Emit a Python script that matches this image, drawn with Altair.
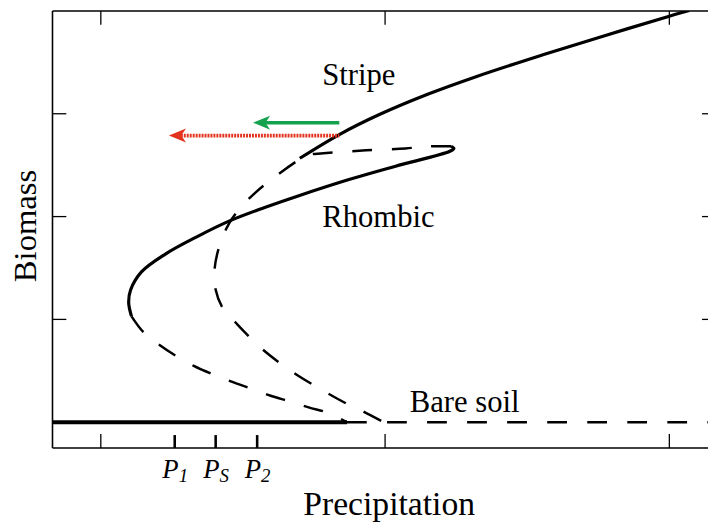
import altair as alt
import pandas as pd

# ---------------- data ----------------
# stable stripe branch (solid)
stripe_solid_x = [1.700, 1.839, 1.978, 2.152, 2.315, 2.548, 2.778, 3.000, 3.070]
stripe_solid_y = [2.567, 2.798, 2.990, 3.192, 3.356, 3.567, 3.764, 3.949, 4.005]

# stable rhombic branch (solid)
rhombic_solid_x = [2.232, 2.242, 2.228, 2.037, 1.873, 1.689, 1.574, 1.453, 1.341, 1.227, 1.143, 1.105, 1.098, 1.108]
rhombic_solid_y = [2.683, 2.663, 2.635, 2.490, 2.360, 2.196, 2.086, 1.958, 1.808, 1.635, 1.462, 1.288, 1.163, 1.029]

# unstable rhombic branch (dashed, outer lower curve)
rhombic_unst_x = [1.108, 1.150, 1.202, 1.265, 1.327, 1.397, 1.460, 1.529, 1.595, 1.665, 1.731, 1.804, 1.866]
rhombic_unst_y = [1.029, 0.875, 0.760, 0.644, 0.548, 0.462, 0.394, 0.327, 0.260, 0.202, 0.144, 0.087, 0.000]

# unstable stripe branch (dashed, inner curve)
stripe_unst_x = [2.232, 2.152, 2.072, 1.933, 1.783, 1.724, 1.689, 1.602, 1.543, 1.498, 1.453, 1.418,
                 1.400, 1.404, 1.428, 1.480, 1.560, 1.620, 1.689, 1.794, 1.863, 1.922, 1.995]
stripe_unst_y = [2.683, 2.683, 2.663, 2.644, 2.615, 2.596, 2.538, 2.365, 2.231, 2.106, 1.942, 1.721,
                 1.481, 1.288, 1.115, 0.952, 0.731, 0.596, 0.462, 0.288, 0.183, 0.106, 0.000]

# bare soil
bare_solid_x = [0.83, 1.866]
bare_dashed_x = [1.866, 3.136]
bare_y = 0.0

# axis ticks
major_ticks_x = [1, 2, 3]
major_ticks_y = [1, 2, 3]
p_ticks = [1.260, 1.404, 1.550]
p_subs = ["1", "S", "2"]

# arrows
arrow_tail_x = [1.839, 1.839]
arrow_tip_x = [1.536, 1.240]
arrow_y = [2.913, 2.788]
arrow_color = ["#14a24f", "#e2331f"]

# labels
label_text = ["Stripe", "Rhombic", "Bare soil"]
label_x = [1.779, 1.779, 2.087]
label_y = [3.279, 1.894, 0.096]

XMIN, XMAX = 0.83, 3.136
YMIN, YMAX = -0.25, 4.0

# ---------------- scales / axes ----------------
xs = alt.Scale(domain=[XMIN, XMAX], nice=False, zero=False)
ys = alt.Scale(domain=[YMIN, YMAX], nice=False, zero=False)
FONT = "Liberation Serif"
xaxis = alt.Axis(title="Precipitation", domain=False, ticks=False, labels=False, grid=False,
                 titleFont=FONT, titleFontSize=34, titleFontWeight="normal", titleColor="black",
                 titleX=340, titleY=67, titleBaseline="alphabetic", titleAlign="center")
yaxis = alt.Axis(title="Biomass", domain=False, ticks=False, labels=False, grid=False,
                 titleFont=FONT, titleFontSize=33, titleFontWeight="normal", titleColor="black",
                 titleAngle=270, titleX=-17, titleY=217, titleBaseline="alphabetic", titleAlign="center")


def X(f="x"):
    return alt.X(f"{f}:Q", scale=xs, axis=xaxis)


def Y(f="y"):
    return alt.Y(f"{f}:Q", scale=ys, axis=yaxis)


def curve(name, xs_, ys_):
    return pd.DataFrame({"x": xs_, "y": ys_, "seg": name, "i": list(range(len(xs_)))})


solid_df = pd.concat([curve("stripe", stripe_solid_x, stripe_solid_y),
                      curve("rhombic", rhombic_solid_x, rhombic_solid_y)])
dashed_df = pd.concat([curve("rh_u", rhombic_unst_x, rhombic_unst_y),
                       curve("st_u", stripe_unst_x, stripe_unst_y)])
bare_solid_df = curve("bs", bare_solid_x, [bare_y] * 2)
bare_dashed_df = curve("bd", bare_dashed_x, [bare_y] * 2)

solid = alt.Chart(solid_df).mark_line(color="black", strokeWidth=3.2, interpolate="catmull-rom", clip=True).encode(
    x=X(), y=Y(), detail="seg:N", order="i:Q")
dashed = alt.Chart(dashed_df).mark_line(color="black", strokeWidth=2.5, strokeDash=[20, 20],
                                         interpolate="catmull-rom", clip=True).encode(
    x=X(), y=Y(), detail="seg:N", order="i:Q")
bare_s = alt.Chart(bare_solid_df).mark_line(color="black", strokeWidth=4).encode(x=X(), y=Y(), order="i:Q")
bare_d = alt.Chart(bare_dashed_df).mark_line(color="black", strokeWidth=2.5, strokeDash=[20, 20.5], clip=True).encode(
    x=X(), y=Y(), order="i:Q")

# frame (left, top, bottom)
frame_df = pd.DataFrame({"x": [XMIN, XMIN, XMIN], "x2": [XMIN, XMAX, XMAX],
                         "y": [YMIN, YMAX, YMIN], "y2": [YMAX, YMAX, YMIN]})
frame = alt.Chart(frame_df).mark_rule(color="black", strokeWidth=1.6).encode(
    x=X(), x2="x2:Q", y=Y(), y2="y2:Q")

# inward ticks
tlx = 14 / 287.5
tly = 14 / 104
rows = []
for v in major_ticks_y:
    rows.append({"x": XMIN, "x2": XMIN + tlx, "y": v, "y2": v})
    rows.append({"x": XMAX - 0.021, "x2": XMAX, "y": v, "y2": v})
for v in major_ticks_x:
    rows.append({"x": v, "x2": v, "y": YMIN, "y2": YMIN + tly})
    rows.append({"x": v, "x2": v, "y": YMAX - tly, "y2": YMAX})
ticks = alt.Chart(pd.DataFrame(rows)).mark_rule(color="black", strokeWidth=1.3).encode(
    x=X(), x2="x2:Q", y=Y(), y2="y2:Q")

pt_df = pd.DataFrame({"x": p_ticks, "y": [YMIN] * 3, "y2": [YMIN + 13 / 104] * 3, "sub": p_subs})
pticks = alt.Chart(pt_df).mark_rule(color="black", strokeWidth=2.6).encode(x=X(), y=Y(), y2="y2:Q")
p_main = alt.Chart(pt_df.assign(yt=-0.538, t="P")).mark_text(
    font=FONT, fontStyle="italic", fontSize=27, align="right", baseline="alphabetic", dx=4, color="black").encode(
    x=X(), y=Y("yt"), text="t:N")
p_sub = alt.Chart(pt_df.assign(yt=-0.577)).mark_text(
    font=FONT, fontStyle="italic", fontSize=19, align="left", baseline="alphabetic", dx=4, color="black").encode(
    x=X(), y=Y("yt"), text="sub:N")

# arrows
head_half = 8.5 / 287.5
arr_df = pd.DataFrame({"tail": arrow_tail_x, "tip": arrow_tip_x, "y": arrow_y, "c": arrow_color})
arr_df["head"] = arr_df["tip"] + head_half
arr_df["lend"] = arr_df["tip"] + 2 * head_half * 0.7
green_line = alt.Chart(arr_df.iloc[[0]]).mark_rule(strokeWidth=3.5, color=arrow_color[0]).encode(
    x=X("lend"), x2="tail:Q", y=Y())
red_line = alt.Chart(arr_df.iloc[[1]]).mark_rule(strokeWidth=3.8, color=arrow_color[1], strokeDash=[2, 1]).encode(
    x=X("lend"), x2="tail:Q", y=Y())
heads = alt.Chart(arr_df).mark_point(shape="M -1 0 L 1 -0.82 L 0.45 0 L 1 0.82 Z", filled=True, size=300,
                                     opacity=1, strokeWidth=0).encode(
    x=X("head"), y=Y(), color=alt.Color("c:N", scale=None))

# curve labels
lab_df = pd.DataFrame({"x": label_x, "y": label_y, "t": label_text})
labels = alt.Chart(lab_df).mark_text(font=FONT, fontSize=31, align="left", baseline="alphabetic",
                                     color="black").encode(x=X(), y=Y(), text="t:N")

chart = alt.layer(frame, ticks, pticks, bare_s, bare_d, dashed, solid, green_line, red_line, heads,
                  labels, p_main, p_sub).properties(
    width=663, height=442,
    padding={"left": 45, "top": 0, "right": 0, "bottom": 76},
    autosize=alt.AutoSizeParams(type="none"),
    background="white",
).configure_view(strokeWidth=0)

chart.save("out.html", embed_options={"renderer": "svg", "actions": False})
